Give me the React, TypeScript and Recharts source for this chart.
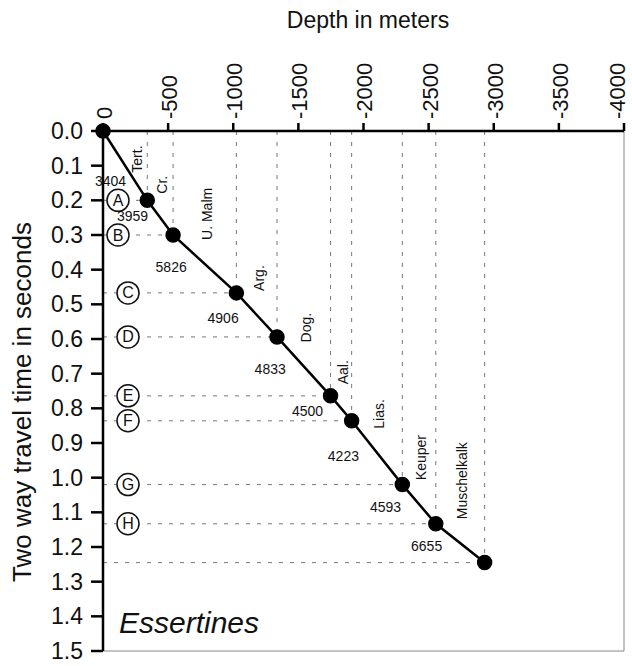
import {
  ComposedChart,
  Line,
  XAxis,
  YAxis,
  ReferenceLine,
  ReferenceDot,
} from "recharts";

// depth (m) and two way time (s) at each horizon
const depths = [0, 340, 538, 1024, 1336, 1747, 1909, 2298, 2555, 2930];
const times = [0, 0.2, 0.3, 0.467, 0.594, 0.764, 0.836, 1.02, 1.133, 1.245];
const markers = ["", "A", "B", "C", "D", "E", "F", "G", "H", ""];
// interval velocities (m/s) and formations between horizons
const velocities = [3404, 3959, 5826, 4906, 4833, 4500, 4223, 4593, 6655];
const formations = ["Tert.", "Cr.", "U. Malm", "Arg.", "Dog.", "Aal.", "Lias.", "Keuper", "Muschelkalk"];
const xTicks = [0, 500, 1000, 1500, 2000, 2500, 3000, 3500, 4000];
const yTicks = [0, 0.1, 0.2, 0.3, 0.4, 0.5, 0.6, 0.7, 0.8, 0.9, 1.0, 1.1, 1.2, 1.3, 1.4, 1.5];

const font = "'Liberation Sans', Arial, Helvetica, sans-serif";
const dash = { stroke: "#777", strokeWidth: 1, strokeDasharray: "4 7" };

const data = depths.map((d, i) => ({ depth: d, time: times[i] }));

const XTick = (props: any) => {
  const { x, y, payload } = props;
  const v = payload.value;
  return (
    <text
      transform={`translate(${x + 1},${y}) rotate(-90)`}
      textAnchor="start"
      dy="0.36em"
      fontSize={22}
      fontFamily={font}
      fill="#111"
    >
      {v === 0 ? "0" : `-${v}`}
    </text>
  );
};

const App = () => {
  return (
    <div style={{ position: "absolute", left: 0, top: 0, width: 632, height: 666, background: "#fff" }}>
      <ComposedChart
        width={632}
        height={666}
        data={data}
        margin={{ top: 81, right: 8, bottom: 15, left: 43 }}
      >
        <XAxis
          dataKey="depth"
          type="number"
          orientation="top"
          domain={[0, 4000]}
          ticks={xTicks}
          height={50}
          tickSize={8}
          tickMargin={4}
          tick={<XTick />}
          axisLine={{ stroke: "#000", strokeWidth: 2.5 }}
          tickLine={{ stroke: "#000", strokeWidth: 2.5 }}
        />
        <YAxis
          type="number"
          domain={[0, 1.5]}
          reversed
          ticks={yTicks}
          width={60}
          tickSize={12}
          tickMargin={8}
          tickFormatter={(v: number) => v.toFixed(1)}
          tick={{ fill: "#111", fontSize: 23, fontFamily: font }}
          axisLine={{ stroke: "#000", strokeWidth: 2.5 }}
          tickLine={{ stroke: "#000", strokeWidth: 2.5 }}
        />
        <ReferenceLine x={4000} stroke="#888" strokeWidth={1} />
        <ReferenceLine y={1.5} stroke="#888" strokeWidth={1} />
        {depths.map((d, i) =>
          i === 0 ? null : (
            <ReferenceLine
              key={`h${i}`}
              segment={[{ x: 0, y: times[i] }, { x: d, y: times[i] }]}
              {...dash}
            />
          )
        )}
        {depths.map((d, i) =>
          i === 0 ? null : (
            <ReferenceLine
              key={`v${i}`}
              segment={[{ x: d, y: 0 }, { x: d, y: times[i] }]}
              {...dash}
            />
          )
        )}
        {velocities.map((v, i) => (
          <ReferenceDot
            key={`l${i}`}
            x={(depths[i] + depths[i + 1]) / 2}
            y={(times[i] + times[i + 1]) / 2}
            r={1}
            shape={(p: any) => {
              // the top two layers are thin, so their labels are nudged
              const vx = i === 0 ? p.cx + 1 : i === 1 ? p.cx - 12 : p.cx - 18;
              const vy = i === 0 ? p.cy + 15 : i === 1 ? p.cy - 2 : p.cy + 3;
              const fx = i === 0 ? p.cx + 12 : p.cx + 2;
              const fy = i === 0 ? p.cy + 7 : p.cy - 24;
              return (
                <g fontFamily={font} fill="#111" fontSize={14}>
                  <text x={vx} y={vy} textAnchor="end" dominantBaseline="central">
                    {v}
                  </text>
                  <text
                    transform={`translate(${fx},${fy}) rotate(-90)`}
                    textAnchor="start"
                    dy="0.36em"
                  >
                    {formations[i]}
                  </text>
                </g>
              );
            }}
          />
        ))}
        {markers.map((m, i) =>
          m === "" ? null : (
            <ReferenceDot
              key={`m${i}`}
              x={0}
              y={times[i]}
              r={1}
              shape={(p: any) => {
                const cx = p.cx + (i <= 2 ? 15 : 25);
                return (
                  <g>
                    <circle cx={cx} cy={p.cy} r={11} fill="#fff" stroke="#111" strokeWidth={1.5} />
                    <text
                      x={cx}
                      y={p.cy}
                      textAnchor="middle"
                      dominantBaseline="central"
                      fontSize={16}
                      fontFamily={font}
                      fill="#111"
                    >
                      {m}
                    </text>
                  </g>
                );
              }}
            />
          )
        )}
        <Line
          dataKey="time"
          type="linear"
          stroke="#000"
          strokeWidth={2.5}
          dot={{ r: 6.5, fill: "#000", stroke: "#000" }}
          isAnimationActive={false}
        />
      </ComposedChart>
      <svg
        width={632}
        height={666}
        style={{ position: "absolute", left: 0, top: 0, pointerEvents: "none" }}
      >
        <text x={368} y={28} textAnchor="middle" fontSize={23} fontFamily={font} fill="#111">
          Depth in meters
        </text>
        <text
          transform="translate(31,402) rotate(-90)"
          textAnchor="middle"
          fontSize={26}
          fontFamily={font}
          fill="#111"
        >
          Two way travel time in seconds
        </text>
        <text x={119} y={633} fontSize={30} fontStyle="italic" fontFamily={font} fill="#111">
          Essertines
        </text>
      </svg>
    </div>
  );
};

export default App;
